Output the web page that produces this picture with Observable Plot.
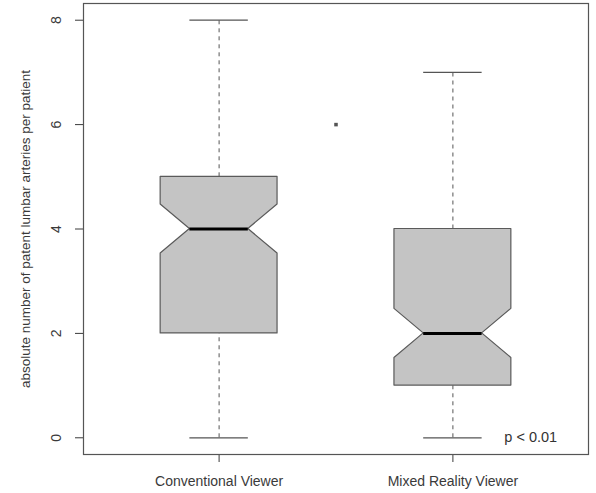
<!DOCTYPE html>
<html><head><meta charset="utf-8">
<script src="https://cdn.jsdelivr.net/npm/d3@7"></script>
<script src="https://cdn.jsdelivr.net/npm/@observablehq/plot@0.6"></script>
<style>body{margin:0;background:#fff} svg{display:block}</style>
</head><body><div id="chart"></div>
<script>
const categories = ["Conventional Viewer", "Mixed Reality Viewer"];
const whiskerLow = [0, 0];
const q1 = [2, 1];
const median = [4, 2];
const q3 = [5, 4];
const whiskerHigh = [8, 7];
const notchLow = [3.53, 1.53];
const notchHigh = [4.47, 2.47];
const extraPoints = [{x: 1.5, y: 6}];
const yTicks = [0, 2, 4, 6, 8];
const yTitle = "absolute number of patent lumbar arteries per patient";
const annotation = ["p < 0.01"];

const W = 0.25;
const boxRows = categories.flatMap((c, i) => {
  const cx = i + 1;
  return [
    {c, y: q1[i], x1: cx - W, x2: cx + W},
    {c, y: notchLow[i], x1: cx - W, x2: cx + W},
    {c, y: median[i], x1: cx - W / 2, x2: cx + W / 2},
    {c, y: notchHigh[i], x1: cx - W, x2: cx + W},
    {c, y: q3[i], x1: cx - W, x2: cx + W}
  ];
});
const stats = categories.map((c, i) => ({
  c, x: i + 1, lo: whiskerLow[i], q1: q1[i], med: median[i], q3: q3[i], hi: whiskerHigh[i]
}));

const chart = Plot.plot({
  width: 596,
  height: 493,
  marginTop: 3,
  marginBottom: 39,
  marginLeft: 83,
  marginRight: 8,
  style: {fontFamily: "'Liberation Sans', Arial, sans-serif", fontSize: "14px", color: "#3a3a3a", background: "#fff"},
  x: {type: "linear", domain: [0.42, 2.58]},
  y: {domain: [-0.32, 8.32]},
  marks: [
    Plot.axisX({ticks: [1, 2], tickFormat: d => categories[d - 1], tickSize: 8, tickPadding: 14, label: null, fontSize: 14}),
    Plot.axisY({ticks: yTicks, tickSize: 8, tickFormat: () => "", label: null}),
    Plot.text(yTicks, {y: d => d, text: d => String(d), frameAnchor: "left", textAnchor: "middle", dx: -27, rotate: -90, fontSize: 14, fill: "#3a3a3a"}),
    Plot.text([yTitle], {text: d => d, frameAnchor: "left", textAnchor: "middle", dx: -58, rotate: -90, fontSize: 13.5, fill: "#3a3a3a"}),
    Plot.ruleX(stats, {x: "x", y1: "q3", y2: "hi", stroke: "#555", strokeDasharray: "4,4"}),
    Plot.ruleX(stats, {x: "x", y1: "lo", y2: "q1", stroke: "#555", strokeDasharray: "4,4"}),
    Plot.ruleY(stats, {y: "hi", x1: d => d.x - W / 2, x2: d => d.x + W / 2, stroke: "#555", strokeWidth: 1.2}),
    Plot.ruleY(stats, {y: "lo", x1: d => d.x - W / 2, x2: d => d.x + W / 2, stroke: "#555", strokeWidth: 1.2}),
    Plot.areaX(boxRows, {y: "y", x1: "x1", x2: "x2", z: "c", fill: "#c4c4c4", stroke: "#5a5a5a", strokeWidth: 1.2}),
    Plot.ruleY(stats, {y: "med", x1: d => d.x - W / 2, x2: d => d.x + W / 2, stroke: "#000", strokeWidth: 3}),
    Plot.dot(extraPoints, {x: "x", y: "y", symbol: "square", r: 2, fill: "#555", stroke: null}),
    Plot.text(annotation, {x: 2.22, y: 0, text: d => d, textAnchor: "start", fontSize: 14.5, fill: "#333"}),
    Plot.frame({stroke: "#555", strokeWidth: 1.2})
  ]
});
document.getElementById("chart").appendChild(chart);
</script>
</body></html>
